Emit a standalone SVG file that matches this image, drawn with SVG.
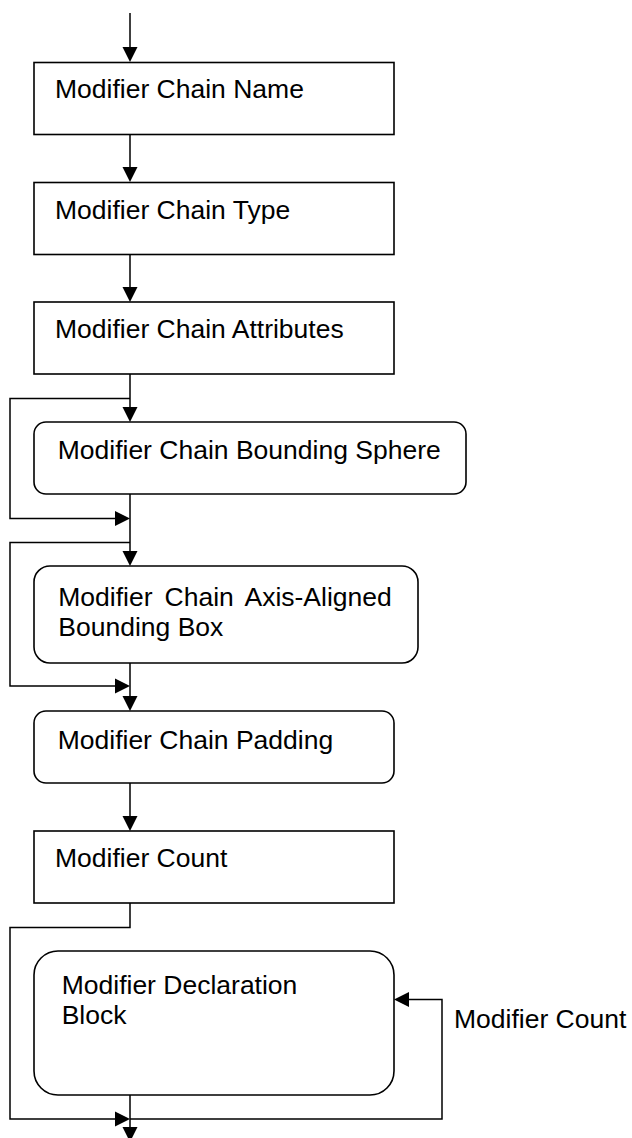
<svg xmlns="http://www.w3.org/2000/svg" width="632" height="1138" viewBox="0 0 632 1138">
<style>
.box{fill:#fff;stroke:#000;stroke-width:1.6}
.ln{fill:none;stroke:#000;stroke-width:1.5}
.ah{fill:#000;stroke:none}
text{font-family:"Liberation Sans",Arial,sans-serif;font-size:26.5px;fill:#000}
</style>
<rect width="632" height="1138" fill="#fff"/>
<g id="connectors">
<path class="ln" d="M130,13 V50"/>
<polygon class="ah" points="122.5,47 137.5,47 130,62"/>
<path class="ln" d="M130,134 V170"/>
<polygon class="ah" points="122.5,167 137.5,167 130,182"/>
<path class="ln" d="M130,254 V290"/>
<polygon class="ah" points="122.5,287 137.5,287 130,302"/>
<path class="ln" d="M130,374 V410"/>
<polygon class="ah" points="122.5,407 137.5,407 130,422"/>
<path class="ln" d="M130,398.5 H10 V518.5 H118"/>
<polygon class="ah" points="115,511 115,526 130,518.5"/>
<path class="ln" d="M130,494 V554"/>
<polygon class="ah" points="122.5,551 137.5,551 130,566"/>
<path class="ln" d="M130,542.5 H10 V686 H118"/>
<polygon class="ah" points="115,678.5 115,693.5 130,686"/>
<path class="ln" d="M130,663 V699"/>
<polygon class="ah" points="122.5,696 137.5,696 130,711"/>
<path class="ln" d="M130,783 V819"/>
<polygon class="ah" points="122.5,816 137.5,816 130,831"/>
<path class="ln" d="M130,903 V927.5 H10 V1119 H118"/>
<polygon class="ah" points="115,1111.5 115,1126.5 130,1119"/>
<path class="ln" d="M130,1095 V1130"/>
<polygon class="ah" points="122.5,1127 137.5,1127 130,1142"/>
<path class="ln" d="M130,1119 H442 V999.5 H406"/>
<polygon class="ah" points="409,992 409,1007 394,999.5"/>
<text x="454" y="1027.7">Modifier Count</text>
</g>
<g id="n1"><rect class="box" x="34" y="62.5" width="360" height="72"/><text x="55" y="98">Modifier Chain Name</text></g>
<g id="n2"><rect class="box" x="34" y="182.5" width="360" height="72"/><text x="55" y="218.5">Modifier Chain Type</text></g>
<g id="n3"><rect class="box" x="34" y="302" width="360" height="72"/><text x="55" y="338">Modifier Chain Attributes</text></g>
<g id="n4"><rect class="box" x="34" y="422" width="432" height="72" rx="12"/><text x="57.7" y="459.3">Modifier Chain Bounding Sphere</text></g>
<g id="n5"><rect class="box" x="34" y="566" width="384" height="97" rx="16"/><text x="58.3" y="606" word-spacing="4.7">Modifier Chain Axis-Aligned</text><text x="58.3" y="635.7">Bounding Box</text></g>
<g id="n6"><rect class="box" x="34" y="711" width="360" height="72" rx="12"/><text x="57.7" y="749.3">Modifier Chain Padding</text></g>
<g id="n7"><rect class="box" x="34" y="831" width="360" height="72"/><text x="55" y="866.7">Modifier Count</text></g>
<g id="n8"><rect class="box" x="34" y="951" width="360" height="144" rx="24"/><text x="61.7" y="993.5">Modifier Declaration</text><text x="61.7" y="1023.5">Block</text></g>
</svg>
